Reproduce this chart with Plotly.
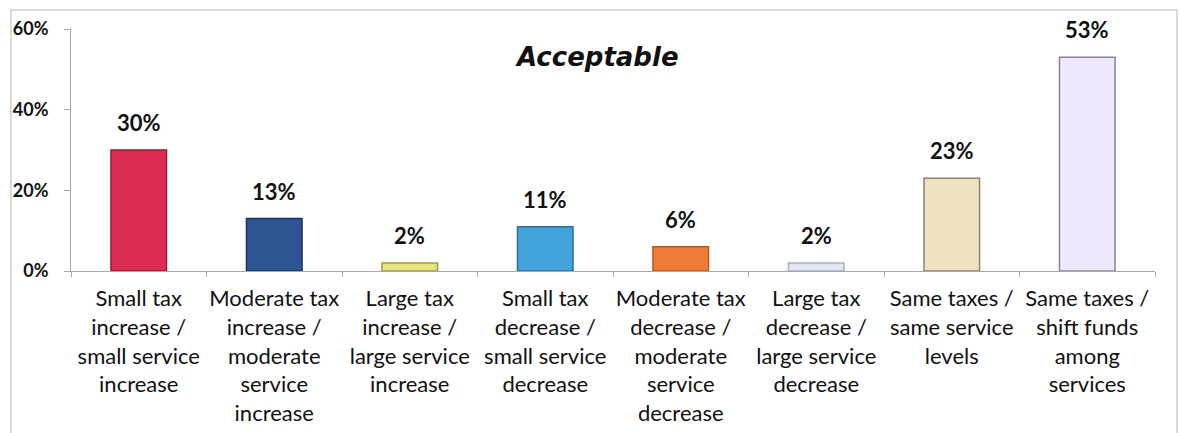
import plotly.graph_objects as go

# Survey results: share of respondents finding each budget option acceptable
categories = [
    "Small tax<br>increase /<br>small service<br>increase",
    "Moderate tax<br>increase /<br>moderate<br>service<br>increase",
    "Large tax<br>increase /<br>large service<br>increase",
    "Small tax<br>decrease /<br>small service<br>decrease",
    "Moderate tax<br>decrease /<br>moderate<br>service<br>decrease",
    "Large tax<br>decrease /<br>large service<br>decrease",
    "Same taxes /<br>same service<br>levels",
    "Same taxes /<br>shift funds<br>among<br>services",
]
values = [30, 13, 2, 11, 6, 2, 23, 53]
value_labels = ["30%", "13%", "2%", "11%", "6%", "2%", "23%", "53%"]
y_ticks = [0, 20, 40, 60]
y_tick_labels = ["0%", "20%", "40%", "60%"]

fill_colors = ["#dd2a52", "#2d5592", "#e6e67c", "#41a3da",
               "#f07b36", "#e2e8f1", "#ede2bd", "#efe8fa"]
edge_colors = ["#9c1a34", "#1b3360", "#9c9c44", "#2b6f9c",
               "#b45a22", "#a8b0c0", "#8c8272", "#8a8294"]

FONT = "Lato, 'Open Sans', sans-serif"
TITLE_FONT = "'DejaVu Sans', sans-serif"

fig = go.Figure()
fig.add_trace(go.Bar(
    x=categories,
    y=values,
    width=0.41,
    marker=dict(color=fill_colors, line=dict(color=edge_colors, width=1.5)),
    hoverinfo="skip",
))

# Value labels above each bar
for cat, val, lab in zip(categories, values, value_labels):
    fig.add_annotation(
        x=cat, y=val, xref="x", yref="y",
        text=lab, showarrow=False,
        yanchor="bottom", yshift=12,
        font=dict(family=FONT, size=22, color="#111111", weight="bold"),
    )

# Chart title
fig.add_annotation(
    x=0.485, y=0.885, xref="paper", yref="paper",
    text="<b><i>Acceptable</i></b>", showarrow=False,
    xanchor="center", yanchor="middle",
    font=dict(family=TITLE_FONT, size=26, color="#111111"),
)

# Light frame around the chart
fig.add_shape(
    type="rect", xref="paper", yref="paper",
    x0=-0.0554, x1=1.0203, y0=-0.72, y1=1.078,
    line=dict(color="#cfcfcf", width=1.5),
    fillcolor="rgba(0,0,0,0)", layer="below",
)

fig.update_layout(
    width=1180, height=433,
    margin=dict(l=71, r=25, t=29, b=161.5, pad=0, autoexpand=False),
    paper_bgcolor="white", plot_bgcolor="white",
    showlegend=False,
    bargap=0.59,
    font=dict(family=FONT, color="#111111"),
)

fig.update_xaxes(
    showline=True, linecolor="#a8a8a8", linewidth=1,
    ticks="outside", tickson="boundaries", ticklen=5, tickcolor="#a8a8a8",
    tickfont=dict(family=FONT, size=22, color="#111111"),
    ticklabelstandoff=8,
    showgrid=False, zeroline=False, automargin=False,
    tickangle=0, fixedrange=True,
)

fig.update_yaxes(
    range=[0, 60],
    tickvals=y_ticks, ticktext=y_tick_labels,
    showline=True, linecolor="#a8a8a8", linewidth=1,
    ticks="outside", ticklen=6, tickcolor="#a8a8a8",
    tickfont=dict(family=FONT, size=18, color="#111111", weight="bold"),
    ticklabelstandoff=12,
    showgrid=False, zeroline=False, automargin=False, fixedrange=True,
)

fig.write_html("out.html")
